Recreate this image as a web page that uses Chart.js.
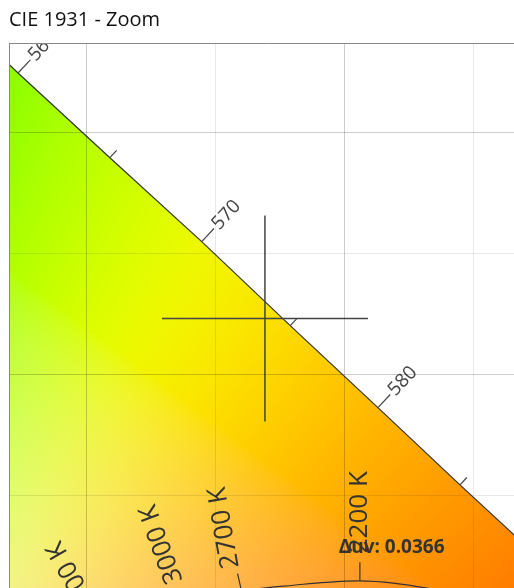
<!DOCTYPE html>
<html>
<head>
<meta charset="utf-8">
<script src="https://cdn.jsdelivr.net/npm/chart.js@4.4.1/dist/chart.umd.min.js"></script>
<style>
html, body { margin: 0; padding: 0; overflow: hidden; background: #fff; }
#wrap { position: absolute; left: 0; top: 0; width: 540px; height: 600px; }
</style>
</head>
<body>
<div id="wrap"><canvas id="cie"></canvas></div>
<script>
// Spectral locus as plotted (wavelength labels as shown on the chart)
const locusNm = [555, 560, 565, 570, 575, 580, 585, 590, 595];
const locusX = [0.3408, 0.3733, 0.4089, 0.4445, 0.4788, 0.5128, 0.5446, 0.5752, 0.6029];
const locusY = [0.6576, 0.6246, 0.5896, 0.5549, 0.5202, 0.4863, 0.4544, 0.4242, 0.3965];

// Planckian locus segment visible at the bottom
const planckX = [0.4500, 0.4593, 0.4684, 0.4800, 0.4929, 0.5058, 0.5188, 0.5317, 0.5407];
const planckY = [0.4070, 0.4100, 0.4117, 0.4129, 0.4141, 0.4147, 0.4138, 0.4117, 0.4095];

// Isotherms: point on the Planckian and end of the short isotherm tick
const cctLabels = ['2200 K', '2700 K', '3000 K', '3500 K'];
const cctBaseX = [0.5058, 0.4599, 0.4369, 0.4053];
const cctBaseY = [0.4147, 0.4106, 0.4041, 0.3907];
const cctTipX = [0.5058, 0.4584, 0.4347, 0.4015];
const cctTipY = [0.4224, 0.4177, 0.4113, 0.3973];

// Measured point
const pointX = 0.469;
const pointY = 0.5231;
const duv = 0.0366;

// Grid values
const xGrid = [0.40, 0.45, 0.50, 0.55];
const yGrid = [0.45, 0.50, 0.55, 0.60];

// label placement (data units) and rotation
const cctLabelPos = [[0.5058, 0.4261, -90], [0.4560, 0.4199, -100], [0.4344, 0.4139, -110], [0.4030, 0.4009, -120]];
const duvLabelPos = [0.5181, 0.4286];

const FONT = "'Open Sans', 'Noto Sans', sans-serif";

// xy -> display colour (background of the diagram)
function xyToRgb(x, y) {
    x -= 0.005; y += 0.005;
    const X = x / y, Z = (1 - x - y) / y;
    let r = 3.2406 * X - 1.5372 - 0.4986 * Z;
    let g = -0.9689 * X + 1.8758 + 0.0415 * Z;
    let b = 0.0557 * X - 0.2040 + 1.0570 * Z;
    r = Math.max(r, 0); g = Math.max(g, 0); b = Math.max(b, 0) * 0.7;
    // soft max so the yellow ridge is not a hard crease
    const m = Math.pow(Math.pow(r, 6) + Math.pow(g, 6) + Math.pow(b, 6), 1 / 6) || 1;
    return [r / m, g / m, b / m].map(v => {
        v = Math.min(v, 1);
        v = v <= 0.0031308 ? 12.92 * v : 1.055 * Math.pow(v, 1 / 2.4) - 0.055;
        return Math.round(v * 255);
    });
}

let colorCache = null;
function chromaImage(chart) {
    const a = chart.chartArea;
    const sx = chart.scales.x, sy = chart.scales.y;
    const w = Math.ceil(a.right - a.left), h = Math.ceil(a.bottom - a.top);
    const key = [a.left, a.top, w, h].join();
    if (colorCache && colorCache.key === key) return colorCache.cv;
    const cv = document.createElement('canvas');
    cv.width = w; cv.height = h;
    const c2 = cv.getContext('2d');
    const img = c2.createImageData(w, h);
    for (let j = 0; j < h; j++) {
        const y = sy.getValueForPixel(a.top + j + 0.5);
        for (let i = 0; i < w; i++) {
            const x = sx.getValueForPixel(a.left + i + 0.5);
            const c = xyToRgb(x, y);
            const k = (j * w + i) * 4;
            img.data[k] = c[0]; img.data[k + 1] = c[1]; img.data[k + 2] = c[2]; img.data[k + 3] = 255;
        }
    }
    c2.putImageData(img, 0, 0);
    colorCache = { key, cv };
    return cv;
}

function clipArea(ctx, a) {
    ctx.beginPath();
    ctx.rect(a.left, a.top, a.right - a.left, a.bottom - a.top);
    ctx.clip();
}

const cieDecor = {
    id: 'cieDecor',
    beforeDatasetsDraw(chart) {
        const ctx = chart.ctx, a = chart.chartArea;
        const pts = chart.getDatasetMeta(0).data;
        const cv = chromaImage(chart);
        ctx.save();
        clipArea(ctx, a);
        ctx.beginPath();
        ctx.moveTo(pts[0].x, pts[0].y);
        pts.forEach(p => ctx.lineTo(p.x, p.y));
        const last = pts[pts.length - 1];
        ctx.lineTo(last.x, a.bottom + 100);
        ctx.lineTo(pts[0].x, a.bottom + 100);
        ctx.closePath();
        ctx.clip();
        ctx.drawImage(cv, a.left, a.top);
        ctx.restore();
    },
    afterDatasetsDraw(chart) {
        const ctx = chart.ctx, a = chart.chartArea;
        const sx = chart.scales.x, sy = chart.scales.y;
        const pts = chart.getDatasetMeta(0).data;
        ctx.save();
        clipArea(ctx, a);

        // crosshair on the measured point
        const mp = chart.getDatasetMeta(chart.data.datasets.length - 1).data[0];
        ctx.strokeStyle = '#444';
        ctx.lineWidth = 1.5;
        ctx.beginPath();
        ctx.moveTo(mp.x - 103, mp.y);
        ctx.lineTo(mp.x + 103, mp.y);
        ctx.moveTo(mp.x, mp.y - 103);
        ctx.lineTo(mp.x, mp.y + 103);
        ctx.stroke();

        // wavelength ticks and labels
        ctx.strokeStyle = '#444';
        ctx.fillStyle = '#444';
        ctx.lineWidth = 1.2;
        ctx.font = '19px ' + FONT;
        ctx.textAlign = 'left';
        ctx.textBaseline = 'middle';
        locusNm.forEach((nm, i) => {
            const p0 = pts[Math.max(i - 1, 0)], p1 = pts[Math.min(i + 1, pts.length - 1)];
            const dx = p1.x - p0.x, dy = p1.y - p0.y;
            const len = Math.hypot(dx, dy);
            const nx = dy / len, ny = -dx / len;
            const major = nm % 10 === 0;
            const tl = major ? 18 : 10;
            const p = pts[i];
            ctx.beginPath();
            ctx.moveTo(p.x, p.y);
            ctx.lineTo(p.x + nx * tl, p.y + ny * tl);
            ctx.stroke();
            if (major) {
                ctx.save();
                ctx.translate(p.x + nx * (tl + 2), p.y + ny * (tl + 2));
                ctx.rotate(Math.atan2(ny, nx));
                ctx.fillText(String(nm), 0, 0);
                ctx.restore();
            }
        });

        // CCT labels
        ctx.fillStyle = '#333';
        ctx.font = '26px ' + FONT;
        cctLabels.forEach((t, i) => {
            const [lx, ly, ang] = cctLabelPos[i];
            ctx.save();
            ctx.translate(sx.getPixelForValue(lx), sy.getPixelForValue(ly));
            ctx.rotate(ang * Math.PI / 180);
            ctx.fillText(t, 0, 0);
            ctx.restore();
        });

        // Duv label
        ctx.font = 'bold 19px ' + FONT;
        ctx.textAlign = 'center';
        ctx.fillText('Δuv: ' + duv.toFixed(4), sx.getPixelForValue(duvLabelPos[0]), sy.getPixelForValue(duvLabelPos[1]));
        ctx.restore();
    }
};

function isMajor(v) {
    return Math.abs(v * 10 - Math.round(v * 10)) < 1e-6;
}
function gridColor(c) {
    if (!c.tick) return 'rgba(0,0,0,0.1)';
    return isMajor(c.tick.value) ? 'rgba(0,0,0,0.2)' : 'rgba(0,0,0,0.09)';
}

const isoSets = cctLabels.map((t, i) => ({
    label: t,
    data: [{ x: cctBaseX[i], y: cctBaseY[i] }, { x: cctTipX[i], y: cctTipY[i] }],
    showLine: true,
    borderColor: '#333',
    borderWidth: 1.2,
    pointRadius: 0
}));

new Chart(document.getElementById('cie'), {
    type: 'scatter',
    data: {
        datasets: [
            {
                label: 'Spectral locus',
                data: locusX.map((x, i) => ({ x: x, y: locusY[i] })),
                showLine: true,
                borderColor: '#333',
                borderWidth: 1.2,
                pointRadius: 0
            },
            {
                label: 'Planckian locus',
                data: planckX.map((x, i) => ({ x: x, y: planckY[i] })),
                showLine: true,
                borderColor: '#333',
                borderWidth: 1.2,
                tension: 0.4,
                pointRadius: 0
            },
            ...isoSets,
            {
                label: 'Point',
                data: [{ x: pointX, y: pointY }],
                pointRadius: 0
            }
        ]
    },
    options: {
        responsive: true,
        maintainAspectRatio: false,
        animation: false,
        events: [],
        layout: { padding: { left: 9, right: 15, top: 0, bottom: 8 } },
        plugins: {
            legend: { display: false },
            tooltip: { enabled: false },
            title: {
                display: true,
                text: 'CIE 1931 - Zoom',
                align: 'start',
                color: '#111',
                font: { family: FONT, size: 20, weight: 'normal' },
                padding: { top: 8, bottom: 11 }
            }
        },
        scales: {
            x: {
                type: 'linear',
                position: 'top',
                min: 0.3698,
                max: 0.5698,
                afterBuildTicks: s => { s.ticks = xGrid.map(v => ({ value: v })); },
                ticks: { display: false },
                grid: { z: 1, drawTicks: false, color: gridColor },
                border: { display: true, color: '#888', z: 1 }
            },
            y: {
                type: 'linear',
                position: 'left',
                min: 0.4101,
                max: 0.637,
                afterBuildTicks: s => { s.ticks = yGrid.map(v => ({ value: v })); },
                ticks: { display: false },
                grid: { z: 1, drawTicks: false, color: gridColor },
                border: { display: true, color: '#888', z: 1 }
            }
        }
    },
    plugins: [cieDecor]
});
</script>
</body>
</html>
